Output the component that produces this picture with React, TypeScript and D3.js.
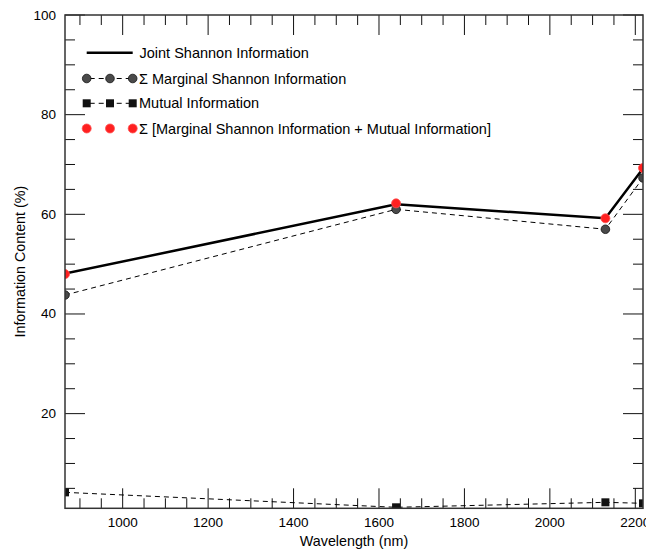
import React from "react";
import * as d3 from "d3";

const wavelengths = [865, 1640, 2130, 2218];
const jointShannon = [48.1, 62.0, 59.2, 69.2];
const marginalSum = [43.8, 61.0, 57.0, 67.3];
const mutualInfo = [4.2, 1.2, 2.2, 2.0];
const sumMarginalMutual = [48.0, 62.2, 59.2, 69.3];

const xTicks = [1000, 1200, 1400, 1600, 1800, 2000, 2200];
const yTicks = [20, 40, 60, 80, 100];

const legendLabels = [
  "Joint Shannon Information",
  "\u03A3 Marginal Shannon Information",
  "Mutual Information",
  "\u03A3 [Marginal Shannon Information + Mutual Information]",
];

const W = 646;
const H = 550;
const L = 65, R = 643, T = 15, B = 508.3;
const FONT = "'Liberation Sans', Arial, Helvetica, sans-serif";

export default function App() {
  const x = d3.scaleLinear().domain([865, 2218]).range([L, R]);
  const y = d3.scaleLinear().domain([1, 100]).range([B, T]);

  const line = d3
    .line<number>()
    .x((_, i) => x(wavelengths[i]))
    .y((d) => y(d));

  const xMinor = d3.range(900, 2218, 50).filter((v) => !xTicks.includes(v));
  const yMinor = d3.range(5, 100, 5).filter((v) => !yTicks.includes(v));

  const tickStroke = "#111";
  const legendRows = [52.7, 78.5, 103.3, 128.5];
  const lx = [86.7, 110, 132.7];

  return (
    <svg
      width={W}
      height={H}
      style={{ position: "absolute", left: 0, top: 0, display: "block", background: "#fff" }}
      fontFamily={FONT}
    >
      <defs>
        <clipPath id="plotclip">
          <rect x={L} y={T} width={R - L} height={B - T} />
        </clipPath>
      </defs>

      {/* ticks */}
      <g stroke={tickStroke} strokeWidth={1}>
        {xTicks.map((t) => (
          <g key={"xt" + t}>
            <line x1={x(t)} x2={x(t)} y1={B} y2={B - 20} />
            <line x1={x(t)} x2={x(t)} y1={T} y2={T + 20} />
          </g>
        ))}
        {xMinor.map((t) => (
          <g key={"xm" + t}>
            <line x1={x(t)} x2={x(t)} y1={B} y2={B - 10} />
            <line x1={x(t)} x2={x(t)} y1={T} y2={T + 10} />
          </g>
        ))}
        {yTicks.map((t) => (
          <g key={"yt" + t}>
            <line x1={L} x2={L + 20} y1={y(t)} y2={y(t)} />
            <line x1={R} x2={R - 20} y1={y(t)} y2={y(t)} />
          </g>
        ))}
        {yMinor.map((t) => (
          <g key={"ym" + t}>
            <line x1={L} x2={L + 10} y1={y(t)} y2={y(t)} />
            <line x1={R} x2={R - 10} y1={y(t)} y2={y(t)} />
          </g>
        ))}
      </g>

      {/* data */}
      <g clipPath="url(#plotclip)">
        <path d={line(marginalSum) || ""} fill="none" stroke="#000" strokeWidth={1} strokeDasharray="5,4" />
        <path d={line(mutualInfo) || ""} fill="none" stroke="#000" strokeWidth={1} strokeDasharray="5,4" />
        <path d={line(jointShannon) || ""} fill="none" stroke="#000" strokeWidth={2.5} />
        {marginalSum.map((v, i) => (
          <circle key={"mc" + i} cx={x(wavelengths[i])} cy={y(v)} r={4.3} fill="#4a4a4a" stroke="#111" strokeWidth={0.8} />
        ))}
        {mutualInfo.map((v, i) => (
          <rect key={"ms" + i} x={x(wavelengths[i]) - 4} y={y(v) - 4} width={8} height={8} fill="#111" />
        ))}
        {sumMarginalMutual.map((v, i) => (
          <circle key={"rc" + i} cx={x(wavelengths[i])} cy={y(v)} r={4.5} fill="#ff2020" stroke="#ff5050" strokeWidth={0.8} />
        ))}
      </g>

      {/* frame */}
      <rect x={L} y={T} width={R - L} height={B - T} fill="none" stroke="#333" strokeWidth={1.5} />

      {/* tick labels */}
      <g fontSize={13.5} fill="#000">
        {xTicks.map((t) => (
          <text key={"xl" + t} x={x(t)} y={527} textAnchor="middle">
            {t}
          </text>
        ))}
        {yTicks.map((t) => (
          <text key={"yl" + t} x={56} y={y(t) + 4.5} textAnchor="end">
            {t}
          </text>
        ))}
      </g>
      <g fontSize={14.3} fill="#000">
        <text x={(L + R) / 2} y={546} textAnchor="middle">
          Wavelength (nm)
        </text>
        <text
          transform={`translate(25,${(T + B) / 2}) rotate(-90)`}
          textAnchor="middle"
        >
          Information Content (%)
        </text>
      </g>

      {/* legend */}
      <g fontSize={14.5} fill="#000">
        <line x1={lx[0]} x2={lx[2]} y1={legendRows[0]} y2={legendRows[0]} stroke="#000" strokeWidth={2.5} />
        <line x1={lx[0]} x2={lx[2]} y1={legendRows[1]} y2={legendRows[1]} stroke="#000" strokeWidth={1} strokeDasharray="5,4" strokeDashoffset={-3} />
        <line x1={lx[0]} x2={lx[2]} y1={legendRows[2]} y2={legendRows[2]} stroke="#000" strokeWidth={1} strokeDasharray="5,4" strokeDashoffset={-3} />
        {lx.map((px, i) => (
          <g key={"lg" + i}>
            <circle cx={px} cy={legendRows[1]} r={4.3} fill="#4a4a4a" stroke="#111" strokeWidth={0.8} />
            <rect x={px - 4} y={legendRows[2] - 4} width={8} height={8} fill="#111" />
            <circle cx={px} cy={legendRows[3]} r={4.5} fill="#ff2020" stroke="#ff5050" strokeWidth={0.8} />
          </g>
        ))}
        {legendLabels.map((lab, i) => (
          <text key={"lt" + i} x={i === 0 ? 139.5 : 139} y={legendRows[i] + 5}>
            {lab}
          </text>
        ))}
      </g>
    </svg>
  );
}
